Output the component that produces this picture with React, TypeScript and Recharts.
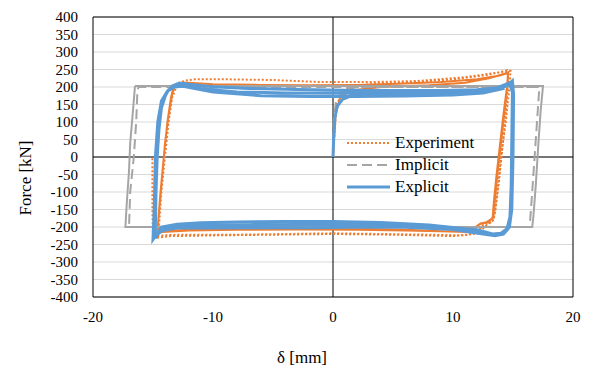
import { LineChart, Line, XAxis, YAxis, CartesianGrid, ReferenceLine, ReferenceArea, Label } from "recharts";

type Pt = [number, number];

const xTicks = [-20, -10, 0, 10, 20];
const yTicks = [-400, -350, -300, -250, -200, -150, -100, -50, 0, 50, 100, 150, 200, 250, 300, 350, 400];

// Experiment, dotted trace (legend entry)
const experimentDotted: Pt[] = [
  [0, 0], [0.3, 150], [1, 195], [3, 208], [6, 212], [10, 222], [13, 235], [14.5, 248],
  [14.6, 220], [14.4, 120], [14.1, 20], [13.8, -80], [13.5, -160], [13.3, -185], [12.5, -195], [12, -215],
  [11, -224], [8, -222], [4, -220], [0, -218], [-4, -220], [-8, -222], [-11, -222], [-13, -222], [-14.6, -225],
  [-14.5, -200], [-14.3, -100], [-14.0, 0], [-13.7, 100], [-13.4, 170], [-13.0, 205], [-12.4, 218], [-11.5, 222],
  [-9, 222], [-5, 220], [-1, 214], [3, 214], [7, 217], [11, 228], [13.5, 240], [14.8, 246],
  [14.7, 200], [14.4, 100], [14.0, 0], [13.7, -100], [13.4, -180], [12.6, -200], [12.2, -218], [10, -226],
  [5, -222], [0, -220], [-5, -222], [-10, -224], [-13.5, -226], [-15, -232], [-15.05, -150], [-15.05, -60], [-15.05, 0],
];

// Experiment, dense cycles that read as a solid line
const experimentDense: Pt[] = [
  [0, 0], [0.2, 120], [0.6, 170], [1.5, 190], [4, 200], [8, 205], [11, 212], [13, 225], [14.3, 238], [14.6, 242],
  [14.5, 200], [14.2, 120], [13.9, 30], [13.6, -60], [13.4, -130], [13.3, -175], [12.8, -186], [12.3, -190],
  [11.8, -205], [11.2, -214], [9, -212], [6, -208], [3, -206], [0, -205], [-4, -205], [-8, -206], [-11, -207],
  [-13, -209], [-14.6, -213],
  [-14.6, -200], [-14.4, -120], [-14.2, -40], [-14.0, 40], [-13.7, 120], [-13.4, 180], [-13.2, 200], [-12.6, 212],
  [-12, 212], [-10, 208], [-6, 206], [-2, 205], [2, 206], [6, 210], [9, 214], [12, 222], [13.8, 232], [14.6, 240],
  [14.55, 210], [14.3, 130], [14.0, 40], [13.7, -50], [13.5, -120], [13.35, -170], [13.0, -185], [12.2, -192],
  [11.5, -210], [10, -213], [6, -210], [2, -208], [-3, -207], [-8, -208], [-12, -210], [-14.5, -215],
  [-14.6, -200], [-14.4, -110], [-14.1, 0], [-13.8, 100], [-13.5, 170], [-13.3, 198], [-12.7, 210],
];

// Implicit, dashed trace (legend entry)
const implicitDashed: Pt[] = [
  [0, 0], [0.05, 100], [0.25, 160], [0.8, 190], [2, 200], [17.2, 200],
  [17.0, 100], [16.8, 0], [16.6, -100], [16.4, -195], [16.4, -200], [-17.0, -200],
  [-16.9, -100], [-16.6, 0], [-16.4, 100], [-16.3, 190], [-16.2, 200], [17.2, 200],
];

// Implicit, repeated cycles that read as a solid line
const implicitCycles: Pt[] = [
  [-16.5, 203], [17.5, 203], [17.3, 130], [17.1, 30], [16.9, -80], [16.7, -170], [16.6, -200],
  [-17.3, -200], [-17.2, -140], [-17.0, -40], [-16.9, 40], [-16.7, 120], [-16.5, 203],
];

const explicitPts: Pt[] = [
  [0, 0], [0.05, 50], [0.15, 110], [0.35, 145], [0.8, 165], [1.5, 175], [3, 180], [6, 182], [10, 184],
  [12.5, 188], [14, 198], [14.9, 215],
  [15.0, 190], [14.95, 100], [14.9, 0], [14.85, -100], [14.8, -170], [14.6, -205], [14.2, -220], [13.6, -224],
  [12.5, -215], [11, -205], [8, -194], [4, -187], [0, -184], [-4, -184], [-8, -186], [-11, -188], [-13, -192],
  [-14.3, -200], [-14.8, -232],
  [-14.8, -200], [-14.75, -100], [-14.65, 0], [-14.5, 80], [-14.3, 140], [-13.9, 182], [-13.4, 203], [-12.8, 211],
  [-12, 208], [-10, 201], [-7, 196], [-3, 193], [1, 191], [5, 190], [9, 190], [12, 192], [13.7, 198], [14.7, 212],
  [14.95, 185], [14.9, 50], [14.85, -80], [14.75, -170], [14.5, -205], [14.0, -218], [13.3, -220], [12, -208],
  [9, -199], [5, -194], [1, -193], [-3, -193], [-7, -194], [-10, -196], [-12.5, -198], [-14, -205], [-14.9, -228],
  [-14.85, -180], [-14.8, -60], [-14.7, 40], [-14.5, 110], [-14.2, 160], [-13.7, 192], [-13.1, 205], [-12.4, 206],
  [-11, 195], [-8, 186], [-4, 183], [0, 182], [4, 182], [8, 183], [11, 186], [13.2, 190], [14.5, 204], [14.95, 218],
  [15.05, 180], [15.0, 0], [14.9, -150], [14.7, -200], [14.2, -220], [13.5, -225], [12.5, -220], [10, -207],
  [6, -201], [2, -201], [-2, -202], [-6, -202], [-10, -203], [-13, -203], [-14.5, -212], [-15, -236],
  [-14.9, -150], [-14.8, 0], [-14.6, 100], [-14.3, 160], [-13.8, 188], [-13.2, 200], [-12.5, 202],
  [-10, 186], [-6, 175], [-2, 173], [2, 173], [6, 174], [10, 177], [12.5, 183], [14.3, 196],
];

const legendItems = [
  { name: "Experiment", color: "#ed7d31", dash: "2 2", width: 2 },
  { name: "Implicit", color: "#a5a5a5", dash: "10 5", width: 2 },
  { name: "Explicit", color: "#5b9bd5", dash: undefined, width: 3 },
];

const serif = "'Liberation Serif', Tinos, 'Times New Roman', 'DejaVu Serif', serif";
const toRows = (pts: Pt[]) => pts.map(([x, y]) => ({ x, y }));

export default function App() {
  return (
    <div style={{ position: "absolute", left: 0, top: 0, width: 600, height: 374, background: "#fff", fontFamily: serif }}>
      <LineChart width={600} height={374} margin={{ top: 17, right: 27, bottom: 0, left: 0 }} style={{ fontFamily: serif }}>
        <CartesianGrid vertical={false} stroke="#d9d9d9" />
        <XAxis
          type="number"
          dataKey="x"
          domain={[-20, 20]}
          ticks={xTicks}
          interval={0}
          allowDataOverflow
          height={77}
          axisLine={false}
          tickLine={false}
          tickSize={0}
          tickMargin={14}
          tick={{ fontSize: 15, fill: "#000", fontFamily: serif }}
        >
          <Label
            content={({ viewBox }: any) => (
              <text x={viewBox.x + 209} y={viewBox.y + 66} textAnchor="middle" fontSize={17} fontFamily={serif} fill="#000">
                δ [mm]
              </text>
            )}
          />
        </XAxis>
        <YAxis
          type="number"
          domain={[-400, 400]}
          ticks={yTicks}
          interval={0}
          allowDataOverflow
          width={93}
          axisLine={false}
          tickLine={false}
          tickSize={0}
          tickMargin={15}
          tick={{ fontSize: 15, fill: "#000", fontFamily: serif }}
        >
          <Label
            content={({ viewBox }: any) => {
              const cx = viewBox.x + 25;
              const cy = viewBox.y + viewBox.height / 2 + 21;
              return (
                <text
                  x={cx}
                  y={cy}
                  transform={`rotate(-90, ${cx}, ${cy})`}
                  textAnchor="middle"
                  dominantBaseline="central"
                  fontSize={17}
                  fontFamily={serif}
                  fill="#000"
                >
                  Force [kN]
                </text>
              );
            }}
          />
        </YAxis>
        <ReferenceLine x={0} stroke="#000" strokeWidth={1} />
        <ReferenceLine y={0} stroke="#000" strokeWidth={1} />
        <Line data={toRows(experimentDense)} dataKey="y" type="linear" dot={false} stroke="#ed7d31" strokeWidth={2} isAnimationActive={false} legendType="none" />
        <Line data={toRows(experimentDotted)} dataKey="y" type="linear" dot={false} stroke="#ed7d31" strokeWidth={2} strokeDasharray="2 2" isAnimationActive={false} />
        <Line data={toRows(implicitCycles)} dataKey="y" type="linear" dot={false} stroke="#a5a5a5" strokeWidth={2} isAnimationActive={false} legendType="none" />
        <Line data={toRows(implicitDashed)} dataKey="y" type="linear" dot={false} stroke="#a5a5a5" strokeWidth={2} strokeDasharray="10 5" isAnimationActive={false} />
        <Line data={toRows(explicitPts)} dataKey="y" type="linear" dot={false} stroke="#5b9bd5" strokeWidth={3} isAnimationActive={false} />
        <ReferenceArea x1={-20} x2={20} y1={-400} y2={400} fill="none" stroke="#000" strokeWidth={1} />
      </LineChart>
      <div style={{ position: "absolute", left: 346, top: 132, fontFamily: serif, fontSize: 17, color: "#000" }}>
        {legendItems.map((it) => (
          <div key={it.name} style={{ display: "flex", alignItems: "center", height: 22 }}>
            <svg width={45} height={10} style={{ marginRight: 4 }}>
              <line x1={1} y1={5} x2={44} y2={5} stroke={it.color} strokeWidth={it.width} strokeDasharray={it.dash} />
            </svg>
            <span>{it.name}</span>
          </div>
        ))}
      </div>
    </div>
  );
}
